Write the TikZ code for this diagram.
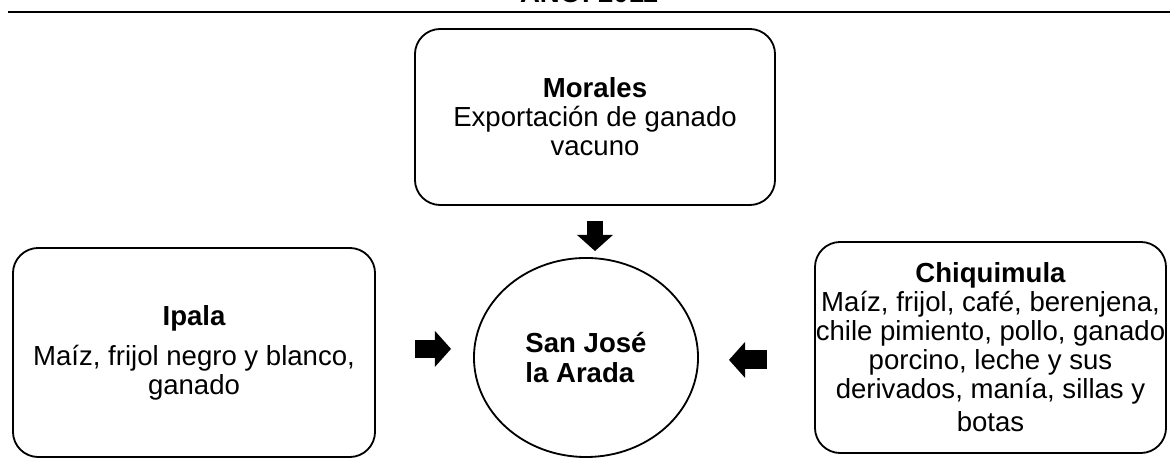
\documentclass[tikz,border=0pt]{standalone}
\usepackage{fontspec}
\setmainfont{Liberation Sans}
\usetikzlibrary{shapes.geometric, arrows.meta}

\begin{document}
\begin{tikzpicture}[x=0.025cm, y=0.025cm,
				kasten/.style={draw, line width=1.3pt, rounded corners=18pt, align=center, inner sep=0pt},
				blockpfeil/.style={line width=#1, -{Triangle[width=25pt, length=11.5pt]}},
				font=\fontsize{19.6}{20.6}\selectfont]
				%Bildbereich
				\clip (0,0) rectangle (1170,464);
				%Kopfzeile
				\node[anchor=base, font=\fontsize{19.6}{20.6}\selectfont\bfseries] (titel) at (589,461) {AÑO: 2011};
				\draw[line width=1.5pt] (8,452) -- (1170,452);
				% Kaesten
				\node[kasten, minimum width=9cm, minimum height=4.4cm] (morales) at (595,347)
					{{\bfseries Morales}\\Exportación de ganado\\vacuno};
				\node[kasten, minimum width=9.05cm, minimum height=5.225cm] (ipala) at (194,111.5)
					{{\bfseries Ipala}\\[8pt]Maíz, frijol negro y blanco,\\ganado};
				\node[kasten, minimum width=8.775cm, minimum height=5.275cm] (chiqui) at (990.5,116.5)
					{{\bfseries Chiquimula}\\Maíz, frijol, café, berenjena,\\chile pimiento, pollo, ganado\\porcino, leche y sus\\derivados, manía, sillas y\\[3pt]botas};
				% Mitte
				\node[draw, ellipse, line width=1.3pt, inner sep=0pt, minimum width=5.6cm, minimum height=4.975cm,
					align=left, font=\fontsize{19.6}{21.4}\selectfont\bfseries] (centro) at (586,106.5)
					{San José\\la Arada};
				% Pfeile
				\draw[blockpfeil=12pt, shorten <=0.375cm, shorten >=0.15cm] (morales.south) -- (morales.south |- centro.north);
				\draw[blockpfeil=12.8pt, shorten <=0.975cm, shorten >=0.55cm] ([yshift=0.09cm]ipala.east) -- ([yshift=0.09cm]ipala.east -| centro.west);
				\draw[blockpfeil=13.5pt, shorten <=1.175cm, shorten >=0.75cm] ([yshift=-0.31cm]chiqui.west) -- ([yshift=-0.31cm]chiqui.west -| centro.east);
			\end{tikzpicture}
\end{document}
